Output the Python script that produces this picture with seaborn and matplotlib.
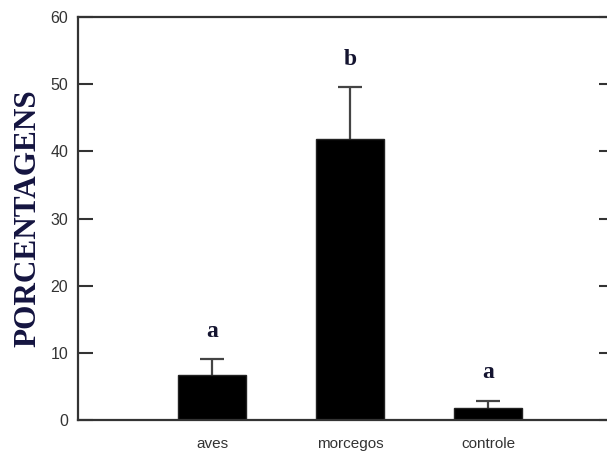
import pandas as pd
import numpy as np
import matplotlib
matplotlib.use("Agg")
import matplotlib.pyplot as plt
import seaborn as sns

# values
groups = ["aves", "morcegos", "controle"]
means = [6.7, 41.8, 1.8]
errors = [2.4, 7.8, 1.0]
letters = ["a", "b", "a"]
letter_heights = [13.2, 53.6, 7.0]

df = pd.DataFrame({"grupo": groups, "porcentagem": means})

sns.set_style("white")

fig = plt.figure(figsize=(6.07, 4.55), dpi=100)
ax = fig.add_axes([78 / 607, 35 / 455, 536 / 607, 403 / 455])

# error bars first, behind the bars, so only the upper half shows
ax.errorbar(range(len(groups)), means, yerr=errors,
            fmt="none", ecolor="#444444", elinewidth=1.6, capsize=8.5, capthick=1.6,
            zorder=0.5)

sns.barplot(data=df, x="grupo", y="porcentagem", color="black", width=0.49,
            edgecolor="#222222", linewidth=1, saturation=1, errorbar=None, ax=ax,
            zorder=2)

for i, (lab, h) in enumerate(zip(letters, letter_heights)):
    ax.text(i, h, lab, ha="center", va="center", fontsize=17, fontweight="bold",
            family="Liberation Serif", color="#141430")

ax.set_xlim(-0.97, 2.91)
ax.set_ylim(0, 60)
ax.set_yticks(range(0, 61, 10))
ax.set_xlabel("")
ax.set_ylabel("PORCENTAGENS", fontsize=22.5, fontweight="bold", family="Liberation Serif",
              color="#141440", labelpad=6)

for side in ["left", "bottom", "top", "right"]:
    ax.spines[side].set_visible(True)
    ax.spines[side].set_color("#333333")
    ax.spines[side].set_linewidth(1.6)
    ax.spines[side].set_zorder(3)

ax.tick_params(axis="y", direction="in", length=11, width=1.5, color="#333333",
               left=True, right=True, labelsize=11.5, labelcolor="#333333", pad=7)
ax.tick_params(axis="x", length=0, labelsize=11, labelcolor="#333333", pad=12)
for lab in ax.get_xticklabels() + ax.get_yticklabels():
    lab.set_family("Liberation Sans")

fig.savefig("out.png", dpi=100)
